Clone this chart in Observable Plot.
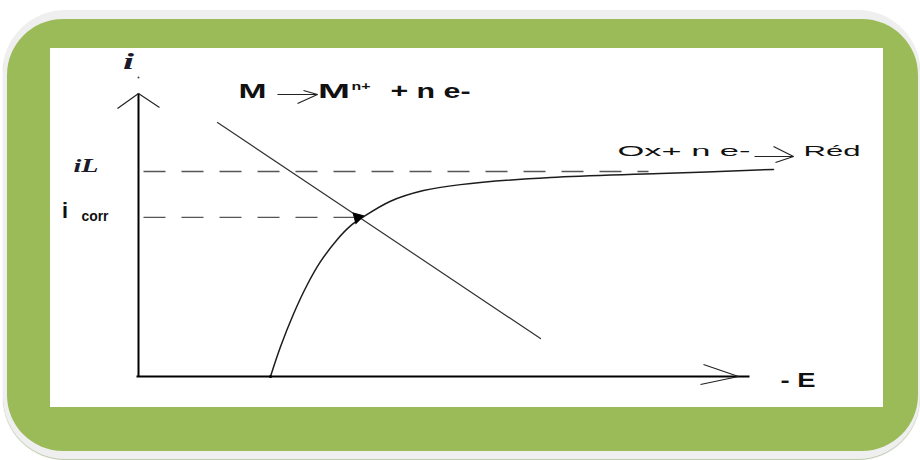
<!DOCTYPE html>
<html>
<head>
<meta charset="utf-8">
<script src="https://cdn.jsdelivr.net/npm/d3@7"></script>
<script src="https://cdn.jsdelivr.net/npm/@observablehq/plot@0.6"></script>
<style>
  html, body { margin: 0; padding: 0; background: #fff; }
  #wrap { position: relative; width: 920px; height: 460px; overflow: hidden; background: #fff; }
  .frame { position: absolute; }
  #chart { position: absolute; left: 0; top: 0; }
</style>
</head>
<body>
<div id="wrap">
  <div class="frame" style="left:3px;top:10px;width:917px;height:449px;border-radius:62px;background:#efefef;box-shadow:0 1px 1px #b9c7a8;"></div>
  <div class="frame" style="left:7px;top:19px;width:911px;height:432px;border-radius:56px;background:#9bbb59;"></div>
  <div class="frame" style="left:50px;top:48px;width:833px;height:359px;background:#ffffff;"></div>
  <div id="chart"></div>
</div>
<script>
// ---- data (in diagram units: -E horizontally, i vertically) ----
// cathodic reduction curve  Ox + n e- -> Réd  (rises to the limiting current iL)
const curveE = [1.32, 1.42, 1.55, 1.69, 1.82, 1.99, 2.12, 2.24, 2.52, 2.85, 3.22, 4.12, 5.22, 6.35];
const curveI = [0, 0.145, 0.305, 0.450, 0.560, 0.670, 0.735, 0.776, 0.855, 0.907, 0.936, 0.971, 0.990, 1.010];
// anodic oxidation line  M -> Mn+ + n e-
const oxE = [0.79, 4.02];
const oxI = [1.239, 0.185];
// characteristic currents
const iLimit = 1.0;
const iCorr = 0.776;
const eCorr = 2.19;
// axes extents
const axisEMax = 6.11;
const axisIMax = 1.38;

// text labels (anchor values in diagram units)
const labelTexts = ["i", "iL", "i", "corr", "M", "M", "n+", "+ n e-", "Ox+ n e-", "Réd", "- E"];
const labelE     = [-0.10, -0.65, -0.765, -0.57, 1.00, 1.795, 2.13, 2.52, 4.79, 6.65, 6.42];
const labelI     = [1.4976, 1.0, 0.7756, 0.7561, 1.3561, 1.3561, 1.40, 1.3561, 1.0732, 1.0732, -0.0488];

// arrow segments (shafts and heads) for the equation arrows and axis heads
const segE1 = [-0.21, 0.21, 5.65, 5.62, 1.39, 1.65, 1.59, 6.16, 6.35, 6.37];
const segI1 = [1.307, 1.312, 0.0585, -0.039, 1.3756, 1.395, 1.3317, 1.0732, 1.122, 1.044];
const segE2 = [0, 0, 6.0, 6.0, 1.79, 1.79, 1.79, 6.55, 6.55, 6.55];
const segI2 = [1.38, 1.38, 0, 0, 1.3756, 1.3756, 1.3756, 1.0732, 1.0732, 1.0732];

// ---- build tables ----
const curve = curveE.map((e, k) => ({e, i: curveI[k]}));
const oxLine = oxE.map((e, k) => ({e, i: oxI[k]}));
const segs = segE1.map((e, k) => ({e1: e, i1: segI1[k], e2: segE2[k], i2: segI2[k]}));
const labels = labelTexts.map((t, k) => ({t, e: labelE[k], i: labelI[k]}));

// label styles
const labelStyle = [
  {fontFamily: "Liberation Serif", fontSize: 24, fontWeight: "bold", fontStyle: "italic", textAnchor: "middle", fill: "#1a1a2a", len: 11},
  {fontFamily: "Liberation Serif", fontSize: 19, fontWeight: "bold", fontStyle: "italic", textAnchor: "start", fill: "#1a1a2a", len: 25},
  {fontFamily: "Liberation Sans", fontSize: 22, fontWeight: "bold", textAnchor: "start", fill: "#111", len: 6},
  {fontFamily: "Liberation Sans", fontSize: 15, fontWeight: "bold", textAnchor: "start", fill: "#111", len: 27},
  {fontFamily: "Liberation Sans", fontSize: 20, fontWeight: "bold", textAnchor: "start", fill: "#111", len: 28},
  {fontFamily: "Liberation Sans", fontSize: 20, fontWeight: "bold", textAnchor: "start", fill: "#111", len: 32},
  {fontFamily: "Liberation Sans", fontSize: 10, fontWeight: "bold", textAnchor: "start", fill: "#111", len: 19},
  {fontFamily: "Liberation Sans", fontSize: 20, fontWeight: "bold", textAnchor: "start", fill: "#111", len: 80},
  {fontFamily: "Liberation Sans", fontSize: 15, fontWeight: "normal", textAnchor: "start", fill: "#111", len: 133},
  {fontFamily: "Liberation Sans", fontSize: 15, fontWeight: "normal", textAnchor: "start", fill: "#111", len: 57},
  {fontFamily: "Liberation Sans", fontSize: 20, fontWeight: "bold", textAnchor: "start", fill: "#111", len: 35}
];

const textMarks = labels.map((d, k) => {
  const {len, ...st} = labelStyle[k];
  return Plot.text([d], {x: "e", y: "i", text: "t", lineAnchor: "bottom", ...st});
});

const chart = Plot.plot({
  width: 920,
  height: 460,
  marginTop: 0, marginRight: 0, marginBottom: 0, marginLeft: 0,
  x: {domain: [-1.38, 7.82], axis: null},
  y: {domain: [-84 / 205, 376 / 205], axis: null},
  style: {background: "transparent", overflow: "visible"},
  marks: [
    // dashed reference lines
    Plot.link([{e1: 0.05, e2: 5.1, i: iLimit}], {x1: "e1", x2: "e2", y1: "i", y2: "i", stroke: "#555", strokeWidth: 1.3, strokeDasharray: "22,16"}),
    Plot.link([{e1: 0.05, e2: eCorr - 0.03, i: iCorr}], {x1: "e1", x2: "e2", y1: "i", y2: "i", stroke: "#555", strokeWidth: 1.3, strokeDasharray: "22,16"}),
    // oxidation line
    Plot.line(oxLine, {x: "e", y: "i", stroke: "#333", strokeWidth: 1.2}),
    // reduction curve
    Plot.line(curve, {x: "e", y: "i", stroke: "#1c1c1c", strokeWidth: 1.5, curve: "catmull-rom"}),
    // axes
    Plot.link([{e1: 0, i1: 0, e2: 0, i2: axisIMax}], {x1: "e1", y1: "i1", x2: "e2", y2: "i2", stroke: "#000", strokeWidth: 2}),
    Plot.link([{e1: -0.02, i1: 0, e2: axisEMax, i2: 0}], {x1: "e1", y1: "i1", x2: "e2", y2: "i2", stroke: "#000", strokeWidth: 2}),
    // arrows (heads and shafts)
    Plot.link(segs, {x1: "e1", y1: "i1", x2: "e2", y2: "i2", stroke: "#222", strokeWidth: 1.2}),
    // filled arrow tip at the corrosion point
    Plot.dot([{e: eCorr, i: iCorr}], {x: "e", y: "i", symbol: "triangle", r: 4, rotate: 75, fill: "#000", stroke: "#000", strokeWidth: 1}),
    // small marks
    Plot.dot([{e: 0, i: 1.4585}], {x: "e", y: "i", r: 1, fill: "#444"}),
    Plot.dot([{e: curveE[0], i: 0}], {x: "e", y: "i", r: 1.6, fill: "#000"}),
    ...textMarks
  ]
});

document.getElementById("chart").appendChild(chart);

// stretch labels horizontally to the widths seen in the picture
const allText = chart.querySelectorAll("text");
allText.forEach((node, k) => {
  const s = labelStyle[k];
  if (!s || !s.len) return;
  node.setAttribute("textLength", s.len);
  node.setAttribute("lengthAdjust", "spacingAndGlyphs");
});
</script>
</body>
</html>
